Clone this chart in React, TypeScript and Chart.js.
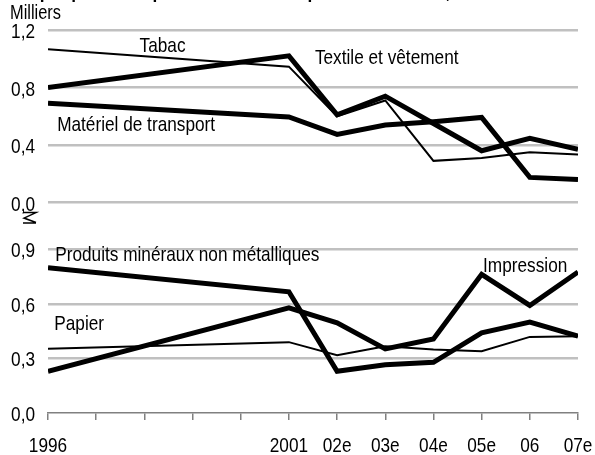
import React, { useEffect, useRef } from "react";
import { Chart, registerables } from "chart.js";

Chart.register(...registerables);

const years = [1996, 2001, 2002, 2003, 2004, 2005, 2006, 2007];
const xTickLabels: Record<number, string> = {
  1996: "1996", 2001: "2001", 2002: "02e", 2003: "03e", 2004: "04e", 2005: "05e", 2006: "06", 2007: "07e",
};
const tabac = [1.066, 0.945, 0.6, 0.71, 0.29, 0.31, 0.35, 0.335];
const textile = [0.8, 1.02, 0.61, 0.74, 0.55, 0.36, 0.446, 0.37];
const transport = [0.69, 0.595, 0.474, 0.539, 0.562, 0.592, 0.175, 0.16];
const produits = [0.8, 0.667, 0.23, 0.266, 0.279, 0.441, 0.5, 0.423];
const impression = [0.23, 0.579, 0.496, 0.353, 0.408, 0.763, 0.592, 0.776];
const papier = [0.353, 0.39, 0.318, 0.367, 0.349, 0.34, 0.419, 0.423];
const topTicks = [0, 0.4, 0.8, 1.2];
const bottomTicks = [0, 0.3, 0.6, 0.9];

const FONT = "'Liberation Sans', Arial, sans-serif";
const SQUEEZE = 0.82;

const seriesLabels = [
  { text: "Tabac", x: 1997.9, y: 1.047, axis: "yTop" },
  { text: "Textile et vêtement", x: 2001.54, y: 0.964, axis: "yTop" },
  { text: "Matériel de transport", x: 1996.19, y: 0.497, axis: "yTop" },
  { text: "Produits minéraux non métalliques", x: 1996.15, y: 0.835, axis: "yBot" },
  { text: "Impression", x: 2005.03, y: 0.774, axis: "yBot" },
  { text: "Papier", x: 1996.13, y: 0.459, axis: "yBot" },
];

const toPts = (vals: number[]) => vals.map((v, i) => ({ x: years[i], y: v }));
const fmt = (v: number) => v.toFixed(1).replace(".", ",");

function narrowText(ctx: CanvasRenderingContext2D, text: string, x: number, y: number, align: CanvasTextAlign, font: string) {
  ctx.save();
  ctx.font = font;
  ctx.textAlign = align;
  ctx.textBaseline = "alphabetic";
  ctx.translate(x, y);
  ctx.scale(SQUEEZE, 1);
  ctx.fillText(text, 0, 0);
  ctx.restore();
}

const labelPlugin = {
  id: "labels",
  afterDraw(chart: any) {
    const ctx = chart.ctx as CanvasRenderingContext2D;
    const xs = chart.scales.x;
    const yTop = chart.scales.yTop;
    const yBot = chart.scales.yBot;
    ctx.save();
    ctx.fillStyle = "#000";
    const f21 = `21px ${FONT}`;
    for (const v of topTicks) narrowText(ctx, fmt(v), 35, yTop.getPixelForValue(v) + 8, "right", f21);
    for (const v of bottomTicks) narrowText(ctx, fmt(v), 35, yBot.getPixelForValue(v) + 8, "right", f21);
    for (const k of Object.keys(xTickLabels)) {
      const yr = Number(k);
      narrowText(ctx, xTickLabels[yr], xs.getPixelForValue(yr), 452, "center", f21);
    }
    for (const l of seriesLabels) {
      narrowText(ctx, l.text, xs.getPixelForValue(l.x), chart.scales[l.axis].getPixelForValue(l.y), "left", f21);
    }
    narrowText(ctx, "Milliers", 10, 19, "left", `20px ${FONT}`);
    narrowText(ctx, "Graphique 3 : Emploi manufacturier par sous-secteur, Nouveau-Brunswick", 10, -2, "left", `bold 21px ${FONT}`);
    const y0 = yTop.getPixelForValue(0);
    ctx.strokeStyle = "#000";
    ctx.lineWidth = 1.5;
    ctx.beginPath();
    ctx.moveTo(23, y0 + 10);
    ctx.lineTo(36, y0 + 10);
    ctx.lineTo(24, y0 + 15.5);
    ctx.lineTo(36, y0 + 20);
    ctx.moveTo(23, y0 + 20.5);
    ctx.lineTo(36, y0 + 20.5);
    ctx.stroke();
    ctx.restore();
  },
};

export default function App() {
  const ref = useRef<HTMLCanvasElement>(null);
  useEffect(() => {
    if (!ref.current) return;
    const thick = 5;
    const thin = 2;
    const ds = (label: string, vals: number[], w: number, axis: string) => ({
      label,
      data: toPts(vals),
      borderColor: "#000",
      backgroundColor: "#000",
      borderWidth: w,
      pointRadius: 0,
      tension: 0,
      yAxisID: axis,
      borderJoinStyle: "miter" as const,
    });
    const chart = new Chart(ref.current, {
      type: "line",
      data: {
        datasets: [
          ds("Tabac", tabac, thin, "yTop"),
          ds("Textile et vêtement", textile, thick, "yTop"),
          ds("Matériel de transport", transport, thick, "yTop"),
          ds("Papier", papier, thin, "yBot"),
          ds("Produits minéraux non métalliques", produits, thick, "yBot"),
          ds("Impression", impression, thick, "yBot"),
        ],
      },
      options: {
        responsive: false,
        animation: false,
        layout: { padding: { left: 0, right: 17, top: 30, bottom: 0 } },
        plugins: { legend: { display: false }, tooltip: { enabled: false } },
        scales: {
          x: {
            type: "linear",
            min: 1996,
            max: 2007,
            afterFit: (s: any) => { s.height = 42; },
            afterBuildTicks: (s: any) => {
              const t = [];
              for (let y = 1996; y <= 2007; y++) t.push({ value: y });
              s.ticks = t;
            },
            ticks: { display: false, autoSkip: false },
            grid: { drawOnChartArea: false, drawTicks: true, tickLength: 7, color: "#808080", lineWidth: 1.5 },
            border: { display: true, color: "#808080", width: 1.5 },
          },
          yBot: {
            type: "linear",
            position: "left",
            stack: "s",
            stackWeight: 181.3,
            min: 0,
            max: 1.0,
            afterFit: (s: any) => { s.width = 48; },
            afterBuildTicks: (s: any) => { s.ticks = bottomTicks.map((v) => ({ value: v })); },
            ticks: { display: false },
            grid: {
              drawTicks: false,
              color: (c: any) => (c.tick && c.tick.value === 0 ? "rgba(0,0,0,0)" : "#c0c0c0"),
              lineWidth: 2.5,
            },
            border: { display: false },
          },
          yTop: {
            type: "linear",
            position: "left",
            stack: "s",
            stackWeight: 200.9,
            min: -0.2,
            max: 1.2,
            afterFit: (s: any) => { s.width = 48; },
            afterBuildTicks: (s: any) => { s.ticks = topTicks.map((v) => ({ value: v })); },
            ticks: { display: false },
            grid: { drawTicks: false, color: "#c0c0c0", lineWidth: 2.5 },
            border: { display: false },
          },
        },
      },
      plugins: [labelPlugin],
    });
    return () => chart.destroy();
  }, []);
  return (
    <div style={{ position: "absolute", left: 0, top: 0, width: 595, height: 455, background: "#fff" }}>
      <canvas ref={ref} width={595} height={455} style={{ display: "block" }} />
    </div>
  );
}
